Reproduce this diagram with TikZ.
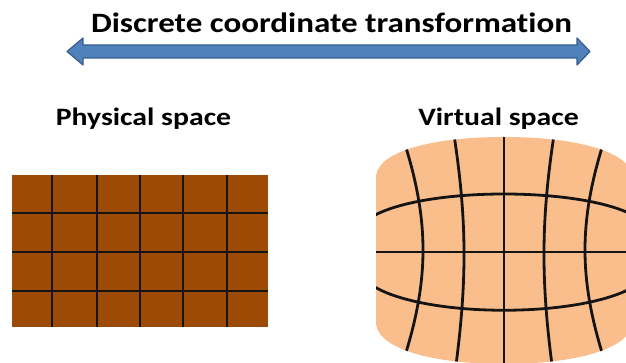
\documentclass[tikz,border=0pt]{standalone}
\usepackage{fontspec}
\setmainfont{Carlito}[RawFeature=-liga]
\usetikzlibrary{shapes.arrows}
\definecolor{physfill}{RGB}{156,74,6}
\definecolor{virtfill}{RGB}{250,190,140}
\definecolor{arrowfill}{RGB}{79,129,189}
\definecolor{arrowedge}{RGB}{56,93,138}
\tikzset{
  heading/.style={font=\bfseries\fontsize{28}{30}\selectfont, inner sep=0pt, anchor=base, xscale=1.18},
  spacelabel/.style={font=\bfseries\fontsize{25}{28}\selectfont, inner sep=0pt, anchor=base, xscale=1.19},
  gridline/.style={line width=2.8pt, black!92},
}
\begin{document}
\begin{tikzpicture}[x=1pt,y=-1pt]
\useasboundingbox (0,0) rectangle (626,363);
\clip (0,0) rectangle (626,363);

% title and double-headed arrow
\node[heading] (title) at (331.5,33) {Discrete coordinate transformation};
\draw[arrowedge, fill=arrowfill, line width=1.2pt, line join=round]
  (67,51.5) -- (83,38) -- (83,45) -- (577,45) -- (577,38) -- (590,51.5)
  -- (577,65) -- (577,58) -- (83,58) -- (83,65) -- cycle;

% labels
\node[spacelabel] (physlabel) at (143.5,126) {Physical space};
\node[spacelabel] (virtlabel) at (498.5,126) {Virtual space};

% physical space: regular grid
\fill[physfill] (12,175) rectangle (268,327);
\foreach \x in {52,97,140,183,227}
  \draw[gridline] (\x,175) -- (\x,327);
\foreach \y in {213,252,291}
  \draw[gridline] (12,\y) -- (268,\y);

% virtual space: distorted grid inside a barrel-shaped region
\def\virtshape{(376,176) .. controls (379,150) and (436,137) .. (504,137)
  .. controls (572,137) and (629,150) .. (632,176) -- (632,324)
  .. controls (629,350) and (572,364) .. (504,364)
  .. controls (436,364) and (379,350) .. (376,324) -- cycle}
\fill[virtfill] \virtshape;
\begin{scope}
  \clip \virtshape;
  % vertical curves
  \draw[gridline] (402,135) .. controls (430,220) and (430,280) .. (402,365);
  \draw[gridline] (454,135) .. controls (467,220) and (467,280) .. (456,365);
  \draw[gridline] (504,130) -- (504,370);
  \draw[gridline] (554,135) .. controls (541,220) and (541,280) .. (552,365);
  \draw[gridline] (606,135) .. controls (578,220) and (578,280) .. (606,365);
  % horizontal curves
  \draw[gridline] (370,218) .. controls (420,186) and (588,186) .. (638,218);
  \draw[gridline] (370,252) -- (640,252);
  \draw[gridline] (370,284) .. controls (420,319) and (588,319) .. (638,284);
\end{scope}
\end{tikzpicture}
\end{document}
